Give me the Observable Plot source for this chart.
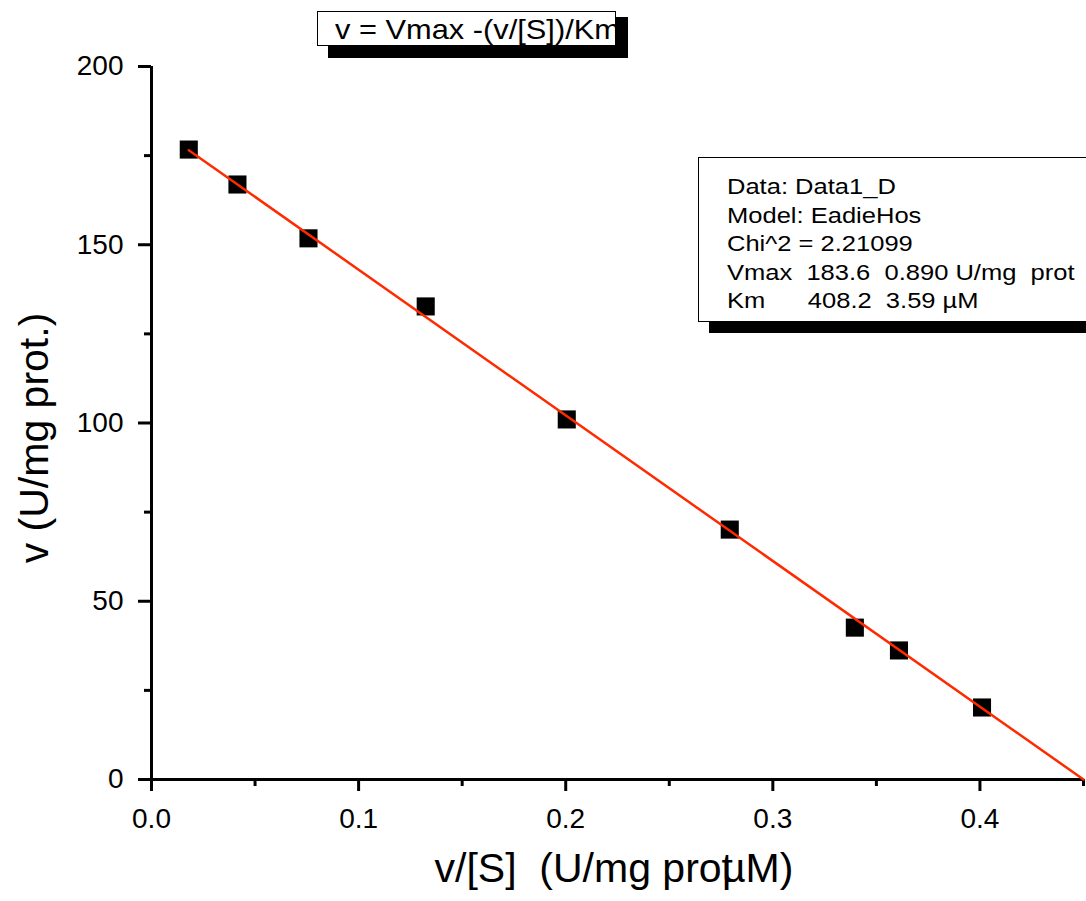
<!DOCTYPE html>
<html><head><meta charset="utf-8">
<script src="https://cdn.jsdelivr.net/npm/d3@7"></script>
<script src="https://cdn.jsdelivr.net/npm/@observablehq/plot@0.6"></script>
<style>
body{margin:0;background:#fff;font-family:"Liberation Sans",Arial,sans-serif;}
#wrap{position:relative;width:1086px;height:901px;overflow:hidden;}
.box{position:absolute;background:#fff;border:1.5px solid #000;box-sizing:border-box;}
.shadow{position:absolute;background:#000;}
.txt{position:absolute;white-space:pre;color:#000;transform-origin:0 0;}
</style></head>
<body><div id="wrap"></div>
<script>
// Data
const vOverS = [0.018, 0.0415, 0.0758, 0.1324, 0.2005, 0.2792, 0.3396, 0.3609, 0.401];
const vRate  = [176.7, 166.9, 151.8, 132.7, 101.0, 70.1, 42.6, 36.2, 20.2];
const fitX = [0.018, 0.450];
const fitY = [176.5, 0];
const xTicks = [0, 0.1, 0.2, 0.3, 0.4];
const xMinor = [0.05, 0.15, 0.25, 0.35, 0.45];
const yTicks = [0, 50, 100, 150, 200];
const yMinor = [25, 75, 125, 175];
const titleText = "v = Vmax -(v/[S])/Km";
const legendLines = ["Data: Data1_D", "Model: EadieHos", "Chi^2 = 2.21099", "Vmax  183.6  0.890 U/mg  prot", "Km      408.2  3.59 \u00b5M"];

const pts = vOverS.map((x, i) => ({x, y: vRate[i]}));
const fit = fitX.map((x, i) => ({x, y: fitY[i]}));

const plot = Plot.plot({
  width: 1086, height: 901,
  marginLeft: 151, marginRight: 3, marginTop: 66, marginBottom: 122,
  style: {fontFamily: '"Liberation Sans", Arial, sans-serif', fontSize: "28px", background: "#fff", color: "#000"},
  x: {domain: [0, 0.45]},
  y: {domain: [0, 200]},
  marks: [
    Plot.axisX({ticks: xTicks, tickFormat: d3.format(".1f"), tickSize: 12, tickPadding: 17, label: null}),
    Plot.axisX({ticks: xMinor, tickFormat: () => "", tickSize: 7, label: null}),
    Plot.axisY({ticks: yTicks, tickSize: 13, tickPadding: 15, label: null}),
    Plot.axisY({ticks: yMinor, tickFormat: () => "", tickSize: 7, label: null}),
    Plot.ruleY([0], {x1: 0, x2: 0.45, stroke: "#000", strokeWidth: 3}),
    Plot.ruleX([0], {y1: 0, y2: 200, stroke: "#000", strokeWidth: 3}),
    Plot.dot(pts, {x: "x", y: "y", symbol: "square", r: 10.2, fill: "#000", stroke: "none"}),
    Plot.line(fit, {x: "x", y: "y", stroke: "#ff2a00", strokeWidth: 2.5})
  ]
});
const wrap = document.getElementById("wrap");
wrap.appendChild(plot);

const svg = d3.select(plot);
svg.selectAll('g[aria-label="x-axis tick"], g[aria-label="y-axis tick"]').attr("stroke-width", 3).attr("stroke-opacity", 1);
svg.selectAll('g[aria-label="x-axis tick label"], g[aria-label="y-axis tick label"]').attr("font-size", 28).attr("fill", "#000");

// axis titles
svg.append("text").attr("x", 614).attr("y", 882).attr("text-anchor", "middle")
  .attr("font-size", 41).attr("fill", "#000")
  .call(t => { t.append("tspan").text("v/[S]  (U/mg prot"); t.append("tspan").attr("dx", -11).text("\u00b5M)"); });
svg.append("text").attr("transform", "translate(48,438) rotate(-90)").attr("text-anchor", "middle")
  .attr("font-size", 41).attr("fill", "#000").text("v (U/mg prot.)");

function addDiv(cls, l, t, w, h) { const d = document.createElement("div"); d.className = cls; Object.assign(d.style, {left: l+"px", top: t+"px", width: w+"px", height: h+"px"}); wrap.appendChild(d); return d; }

// title box with shadow
addDiv("shadow", 328, 17, 300, 41);
addDiv("box", 317, 11, 299, 35);
const tt = document.createElement("div");
tt.className = "txt";
Object.assign(tt.style, {left: "335px", top: "11px", fontSize: "28px", lineHeight: "38px", transform: "scaleX(1.1)"});
tt.textContent = titleText;
wrap.appendChild(tt);

// legend box
addDiv("shadow", 709, 168, 400, 165);
addDiv("box", 698, 157, 420, 165);
const lg = document.createElement("div");
lg.className = "txt";
Object.assign(lg.style, {left: "727px", top: "173px", fontSize: "22px", lineHeight: "28.5px", transform: "scaleX(1.16)"});
lg.textContent = legendLines.join("\n");
wrap.appendChild(lg);
</script></body></html>
